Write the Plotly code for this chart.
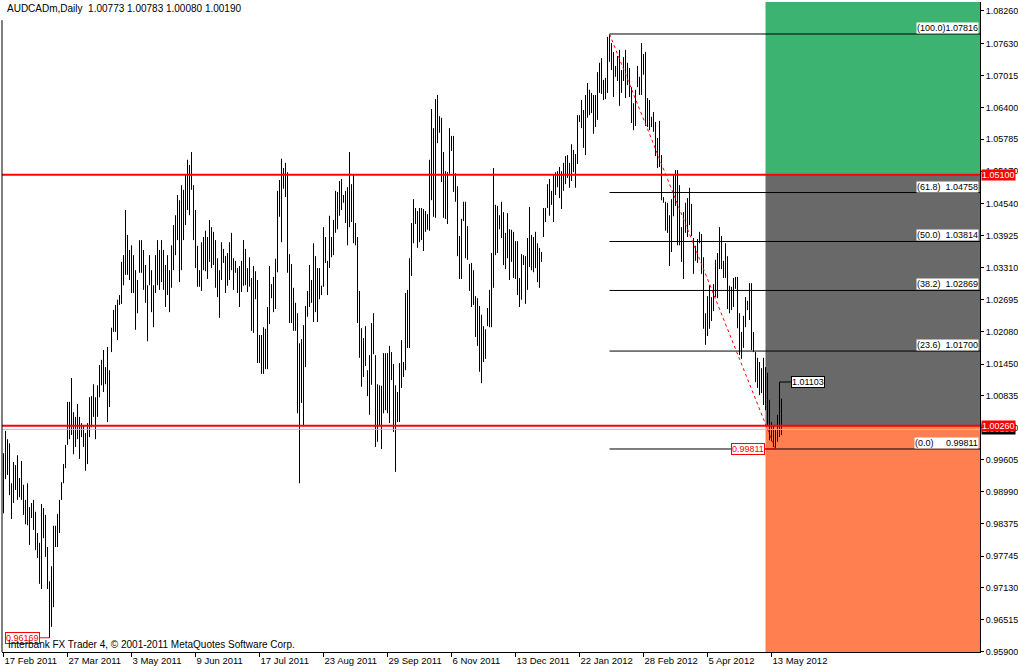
import plotly.graph_objects as go

# ---------------- data ----------------
symbol = "AUDCADm,Daily"
last_ohlc = [1.00773, 1.00783, 1.00080, 1.00190]  # O H L C of last bar

date_labels = ["17 Feb 2011", "27 Mar 2011", "3 May 2011", "9 Jun 2011", "17 Jul 2011",
               "23 Aug 2011", "29 Sep 2011", "6 Nov 2011", "13 Dec 2011", "22 Jan 2012",
               "28 Feb 2012", "5 Apr 2012", "13 May 2012"]
label_bars = [0, 32, 64, 96, 128, 160, 192, 224, 256, 288, 320, 352, 384]

highs = [
    0.9973, 1.0016, 1.0000, 0.9992, 0.9915, 0.9956, 0.9950, 0.9969, 0.9925, 0.9958,
    0.9912, 0.9883, 0.9915, 0.9869, 0.9877, 0.9883, 0.9860, 0.9819, 0.9800, 0.9875,
    0.9867, 0.9854, 0.9792, 0.9726, 0.9755, 0.9833, 0.9833, 0.9856, 0.9883, 0.9917,
    0.9952, 0.9989, 1.0072, 1.0072, 1.0118, 1.0052, 1.0043, 1.0068, 1.0043, 1.0031,
    1.0027, 1.0012, 1.0031, 1.0081, 1.0083, 1.0106, 1.0081, 1.0104, 1.0143, 1.0153,
    1.0172, 1.0139, 1.0178, 1.0133, 1.0215, 1.0249, 1.0259, 1.0269, 1.0278, 1.0342,
    1.0355, 1.0442, 1.0394, 1.0365, 1.0374, 1.0355, 1.0326, 1.0307, 1.0384, 1.0384,
    1.0365, 1.0336, 1.0297, 1.0355, 1.0326, 1.0297, 1.0355, 1.0384, 1.0365, 1.0384,
    1.0365, 1.0336, 1.0355, 1.0326, 1.0374, 1.0413, 1.0432, 1.0471, 1.0461, 1.0490,
    1.0481, 1.0510, 1.0539, 1.0529, 1.0554, 1.0490, 1.0442, 1.0373, 1.0326, 1.0380,
    1.0390, 1.0402, 1.0390, 1.0423, 1.0409, 1.0400, 1.0384, 1.0349, 1.0326, 1.0380,
    1.0367, 1.0353, 1.0359, 1.0380, 1.0398, 1.0349, 1.0344, 1.0330, 1.0334, 1.0344,
    1.0384, 1.0367, 1.0330, 1.0351, 1.0311, 1.0334, 1.0324, 1.0307, 1.0201, 1.0201,
    1.0216, 1.0213, 1.0255, 1.0334, 1.0299, 1.0313, 1.0348, 1.0479, 1.0500, 1.0541,
    1.0523, 1.0533, 1.0515, 1.0357, 1.0338, 1.0292, 1.0263, 1.0243, 1.0185, 1.0193,
    1.0220, 1.0257, 1.0286, 1.0336, 1.0307, 1.0378, 1.0353, 1.0330, 1.0330, 1.0296,
    1.0409, 1.0390, 1.0344, 1.0431, 1.0390, 1.0423, 1.0479, 1.0477, 1.0498, 1.0502,
    1.0471, 1.0479, 1.0486, 1.0554, 1.0492, 1.0510, 1.0417, 1.0390, 1.0286, 1.0214,
    1.0195, 1.0218, 1.0133, 1.0162, 1.0224, 1.0243, 1.0162, 1.0106, 1.0104, 1.0103,
    1.0166, 1.0166, 1.0166, 1.0180, 1.0168, 1.0145, 1.0104, 1.0091, 1.0147, 1.0191,
    1.0149, 1.0282, 1.0288, 1.0349, 1.0417, 1.0463, 1.0446, 1.0440, 1.0446, 1.0446,
    1.0444, 1.0440, 1.0434, 1.0539, 1.0637, 1.0600, 1.0656, 1.0664, 1.0623, 1.0620,
    1.0554, 1.0517, 1.0515, 1.0600, 1.0585, 1.0585, 1.0513, 1.0488, 1.0392, 1.0425,
    1.0458, 1.0458, 1.0411, 1.0338, 1.0340, 1.0326, 1.0276, 1.0272, 1.0257, 1.0240,
    1.0218, 1.0212, 1.0253, 1.0288, 1.0359, 1.0523, 1.0452, 1.0450, 1.0432, 1.0458,
    1.0438, 1.0398, 1.0436, 1.0405, 1.0404, 1.0400, 1.0382, 1.0382, 1.0311, 1.0357,
    1.0355, 1.0353, 1.0388, 1.0448, 1.0394, 1.0390, 1.0400, 1.0378, 1.0369, 1.0361,
    1.0446, 1.0446, 1.0492, 1.0502, 1.0479, 1.0510, 1.0515, 1.0517, 1.0525, 1.0517,
    1.0533, 1.0546, 1.0548, 1.0533, 1.0569, 1.0558, 1.0550, 1.0625, 1.0625, 1.0654,
    1.0635, 1.0664, 1.0687, 1.0674, 1.0668, 1.0664, 1.0664, 1.0708, 1.0726, 1.0735,
    1.0693, 1.0697, 1.0776, 1.07816, 1.0764, 1.0747, 1.0720, 1.0739, 1.0751, 1.0712,
    1.0737, 1.0751, 1.0726, 1.0716, 1.0679, 1.0648, 1.0674, 1.0720, 1.0699, 1.0764,
    1.0743, 1.0747, 1.0658, 1.0654, 1.0622, 1.0631, 1.0612, 1.0581, 1.0614, 1.0548,
    1.0467, 1.0458, 1.0456, 1.0432, 1.0463, 1.0510, 1.0519, 1.0519, 1.0490, 1.0409,
    1.0438, 1.0456, 1.0465, 1.0485, 1.0454, 1.0388, 1.0373, 1.0386, 1.0400, 1.0396,
    1.0351, 1.0243, 1.0276, 1.0297, 1.0274, 1.0299, 1.0346, 1.0359, 1.0409, 1.0392,
    1.0344, 1.0378, 1.0353, 1.0296, 1.0294, 1.0311, 1.0313, 1.0313, 1.0243, 1.0207,
    1.0238, 1.0274, 1.0267, 1.0301, 1.0301, 1.0207, 1.0168, 1.0157, 1.0149, 1.0137,
    1.0157, 1.0139, 1.0128, 1.0076, 1.0033, 1.0027, 1.0018, 1.0047, 1.01103, 1.00783,
]

lows = [
    0.9857, 0.9923, 0.9931, 0.9892, 0.9846, 0.9877, 0.9902, 0.9883, 0.9888, 0.9883,
    0.9854, 0.9836, 0.9834, 0.9796, 0.9848, 0.9825, 0.9786, 0.9771, 0.9721, 0.9711,
    0.9809, 0.9773, 0.9711, 0.96169, 0.9638, 0.9676, 0.9792, 0.9792, 0.9819, 0.9883,
    0.9915, 0.9944, 0.9989, 1.0000, 1.0008, 0.9971, 0.9985, 1.0000, 0.9962, 1.0004,
    0.9985, 0.9939, 0.9952, 1.0004, 1.0023, 1.0043, 1.0000, 1.0043, 1.0081, 1.0104,
    1.0091, 1.0106, 1.0033, 1.0062, 1.0168, 1.0207, 1.0207, 1.0191, 1.0259, 1.0261,
    1.0297, 1.0317, 1.0317, 1.0307, 1.0282, 1.0282, 1.0211, 1.0243, 1.0321, 1.0321,
    1.0288, 1.0263, 1.0189, 1.0297, 1.0245, 1.0216, 1.0282, 1.0297, 1.0288, 1.0303,
    1.0288, 1.0255, 1.0278, 1.0245, 1.0292, 1.0326, 1.0355, 1.0384, 1.0303, 1.0326,
    1.0384, 1.0413, 1.0442, 1.0432, 1.0481, 1.0384, 1.0330, 1.0294, 1.0294, 1.0286,
    1.0326, 1.0324, 1.0309, 1.0342, 1.0330, 1.0336, 1.0292, 1.0274, 1.0234, 1.0307,
    1.0340, 1.0282, 1.0296, 1.0307, 1.0326, 1.0288, 1.0321, 1.0282, 1.0255, 1.0284,
    1.0296, 1.0297, 1.0284, 1.0294, 1.0209, 1.0205, 1.0270, 1.0147, 1.0147, 1.0126,
    1.0126, 1.0135, 1.0135, 1.0222, 1.0272, 1.0245, 1.0251, 1.0322, 1.0429, 1.0380,
    1.0483, 1.0467, 1.0321, 1.0224, 1.0224, 1.0209, 1.0209, 1.0050, 0.9915, 1.0070,
    1.0027, 1.0139, 1.0236, 1.0255, 1.0263, 1.0226, 1.0245, 1.0226, 1.0270, 1.0278,
    1.0294, 1.0340, 1.0278, 1.0330, 1.0351, 1.0355, 1.0398, 1.0405, 1.0431, 1.0442,
    1.0456, 1.0417, 1.0374, 1.0409, 1.0419, 1.0378, 1.0374, 1.0224, 1.0157, 1.0101,
    1.0120, 1.0141, 1.0083, 1.0047, 1.0105, 1.0164, 0.9985, 0.9995, 1.0027, 0.9981,
    1.0050, 1.0056, 1.0050, 1.0031, 1.0114, 1.0014, 0.9937, 1.0033, 1.0033, 1.0099,
    1.0120, 1.0133, 1.0176, 1.0176, 1.0315, 1.0378, 1.0415, 1.0369, 1.0380, 1.0384,
    1.0363, 1.0400, 1.0404, 1.0402, 1.0461, 1.0429, 1.0427, 1.0571, 1.0591, 1.0496,
    1.0427, 1.0425, 1.0415, 1.0512, 1.0556, 1.0477, 1.0458, 1.0353, 1.0309, 1.0309,
    1.0421, 1.0349, 1.0346, 1.0286, 1.0255, 1.0259, 1.0197, 1.0180, 1.0130, 1.0108,
    1.0149, 1.0155, 1.0218, 1.0216, 1.0216, 1.0292, 1.0355, 1.0359, 1.0405, 1.0388,
    1.0336, 1.0328, 1.0349, 1.0307, 1.0342, 1.0311, 1.0309, 1.0278, 1.0255, 1.0269,
    1.0336, 1.0261, 1.0288, 1.0332, 1.0326, 1.0322, 1.0330, 1.0303, 1.0292, 1.0342,
    1.0390, 1.0419, 1.0446, 1.0431, 1.0452, 1.0419, 1.0471, 1.0486, 1.0465, 1.0444,
    1.0479, 1.0492, 1.0504, 1.0485, 1.0498, 1.0515, 1.0485, 1.0531, 1.0612, 1.0600,
    1.0562, 1.0548, 1.0620, 1.0625, 1.0629, 1.0589, 1.0602, 1.0616, 1.0668, 1.0666,
    1.0654, 1.0656, 1.0668, 1.0728, 1.0712, 1.0660, 1.0699, 1.0691, 1.0643, 1.0668,
    1.0691, 1.0658, 1.0683, 1.0660, 1.0610, 1.0596, 1.0604, 1.0679, 1.0664, 1.0664,
    1.0703, 1.0604, 1.0602, 1.0596, 1.0602, 1.0593, 1.0546, 1.0523, 1.0525, 1.0461,
    1.0456, 1.0402, 1.0398, 1.0334, 1.0361, 1.0430, 1.0450, 1.0374, 1.0374, 1.0342,
    1.0309, 1.0398, 1.0390, 1.0413, 1.0392, 1.0319, 1.0344, 1.0340, 1.0378, 1.0319,
    1.0213, 1.0182, 1.0199, 1.0213, 1.0228, 1.0247, 1.0274, 1.0272, 1.0328, 1.0328,
    1.0311, 1.0311, 1.0251, 1.0243, 1.0249, 1.0255, 1.0290, 1.0214, 1.0162, 1.0155,
    1.0176, 1.0216, 1.0249, 1.0230, 1.0172, 1.0168, 1.0110, 1.0099, 1.0085, 1.0089,
    1.0066, 1.0056, 1.0027, 0.9998, 0.9996, 0.9985, 0.99811, 0.9995, 1.0004, 1.00080,
]

ytick_vals = [1.08260, 1.07630, 1.07015, 1.06400, 1.05785, 1.05170, 1.04540, 1.03925,
              1.03310, 1.02695, 1.02080, 1.01450, 1.00835, 1.00220, 0.99605, 0.98990,
              0.98375, 0.97745, 0.97130, 0.96515, 0.95900]

h_levels = [1.05100, 1.00260]           # red horizontal lines
fib_pcts = [100.0, 61.8, 50.0, 38.2, 23.6, 0.0]
fib_high_bar, fib_low_bar = 303, 386    # anchor bars of the Fibonacci retracement
zone_start_bar = 381
zone_colors = ["#3CB371", "#696969", "#FF7F50"]   # green / gray / coral
label_high_bar = 388                    # bar with the 1.01103 price label

# ---------------- derived ----------------
n = len(highs)
y_range = [0.95895, 1.08433]
x_range = [-0.75, 488.25]

fib_hi = highs[fib_high_bar]
fib_lo = lows[fib_low_bar]
fib_vals = [fib_lo + (fib_hi - fib_lo) * p / 100.0 for p in fib_pcts]

xs, ys = [], []
for i in range(n):
    xs += [i, i, None]
    ys += [lows[i], highs[i], None]

FONT = "Liberation Sans, Arial, sans-serif"
fig = go.Figure()
fig.add_trace(go.Scatter(x=xs, y=ys, mode="lines", line=dict(color="black", width=1),
                         hoverinfo="skip", connectgaps=False))

# coloured zones
zone_edges = [y_range[1], h_levels[0], h_levels[1], y_range[0]]
for k, c in enumerate(zone_colors):
    fig.add_shape(type="rect", xref="x", yref="y", x0=zone_start_bar, x1=x_range[1],
                  y0=zone_edges[k + 1], y1=zone_edges[k], fillcolor=c,
                  line=dict(width=0), layer="below")

# bid line
fig.add_shape(type="line", xref="paper", yref="y", x0=0, x1=1,
              y0=last_ohlc[3], y1=last_ohlc[3], line=dict(color="#C0C0C0", width=1))
# red horizontal lines
for lv in h_levels:
    fig.add_shape(type="line", xref="paper", yref="y", x0=0, x1=1, y0=lv, y1=lv,
                  line=dict(color="#FF0000", width=2))
# fibonacci levels
for v in fib_vals:
    fig.add_shape(type="line", xref="x", yref="y", x0=fib_high_bar, x1=x_range[1],
                  y0=v, y1=v, line=dict(color="black", width=1))
# fib trend line
fig.add_shape(type="line", xref="x", yref="y", x0=fib_high_bar, y0=fib_hi,
              x1=fib_low_bar, y1=fib_lo, line=dict(color="#FF0000", width=1, dash="dot"))
# left frame line
fig.add_shape(type="line", xref="paper", yref="paper", x0=0, x1=0, y0=0, y1=0.972,
              line=dict(color="black", width=1))

NB = "\u00a0"
# fib labels
for p, v in zip(fib_pcts, fib_vals):
    pct = f"({p:.1f})"
    gap = "" if p >= 100 else (NB * 5 if p == 0 else NB * 2)
    fig.add_annotation(xref="paper", yref="y", x=1, y=v, xanchor="right", yanchor="bottom",
                       xshift=-1, text=pct + gap + f"{v:.5f}", showarrow=False,
                       bgcolor="white", borderpad=0,
                       font=dict(family=FONT, size=9, color="black"))

# price labels with connectors
lo_idx = lows.index(min(lows))
fig.add_annotation(xref="x", yref="y", x=lo_idx, y=lows[lo_idx], text=f"{lows[lo_idx]:.5f}",
                   showarrow=True, arrowhead=0, arrowwidth=1, arrowcolor="#FF0000",
                   ax=-27, ay=0, bgcolor="white", bordercolor="#FF0000", borderwidth=1,
                   borderpad=0, font=dict(family=FONT, size=9, color="#FF0000"))
fig.add_annotation(xref="x", yref="y", x=fib_low_bar, y=fib_lo, text=f"{fib_lo:.5f}",
                   showarrow=True, arrowhead=0, arrowwidth=1, arrowcolor="#FF0000",
                   ax=-28, ay=0, bgcolor="white", bordercolor="#FF0000", borderwidth=1,
                   borderpad=0, font=dict(family=FONT, size=9, color="#FF0000"))
fig.add_annotation(xref="x", yref="y", x=label_high_bar, y=highs[label_high_bar],
                   text=f"{highs[label_high_bar]:.5f}",
                   showarrow=True, arrowhead=0, arrowwidth=1, arrowcolor="black",
                   ax=28, ay=0, bgcolor="white", bordercolor="black", borderwidth=1,
                   borderpad=0, font=dict(family=FONT, size=9, color="black"))

# right-axis price tags
fig.add_annotation(xref="paper", yref="y", x=1, y=last_ohlc[3], xanchor="left", yanchor="middle",
                   xshift=1, text=f"{last_ohlc[3]:.5f}", showarrow=False, bgcolor="black",
                   borderpad=0, font=dict(family=FONT, size=9, color="white"))
for lv in h_levels:
    fig.add_annotation(xref="paper", yref="y", x=1, y=lv, xanchor="left", yanchor="middle",
                       xshift=1, text=f"{lv:.5f}", showarrow=False, bgcolor="#FF0000",
                       borderpad=0, font=dict(family=FONT, size=9, color="white"))

# title & copyright
fig.add_annotation(xref="paper", yref="paper", x=0, y=1, xanchor="left", yanchor="top",
                   xshift=3, yshift=1, showarrow=False,
                   text=symbol + NB * 2 + " ".join(f"{v:.5f}" for v in last_ohlc),
                   font=dict(family=FONT, size=10, color="black"))
fig.add_annotation(xref="paper", yref="paper", x=0, y=0, xanchor="left", yanchor="bottom",
                   xshift=4, showarrow=False,
                   text="Interbank FX Trader 4, © 2001-2011 MetaQuotes Software Corp.",
                   font=dict(family=FONT, size=10, color="black"))

fig.update_layout(width=1018, height=670, margin=dict(l=2, r=38, t=2, b=18, autoexpand=False),
                  paper_bgcolor="white", plot_bgcolor="white", showlegend=False,
                  hovermode=False, font=dict(family=FONT, size=10, color="black"))
fig.update_xaxes(range=x_range, tickvals=label_bars, ticktext=date_labels, ticks="outside",
                 ticklen=4, tickcolor="black", showline=True, linecolor="black", linewidth=1,
                 showgrid=False, zeroline=False, ticklabelposition="outside right",
                 tickfont=dict(family=FONT, size=9.5, color="black"), automargin=False)
fig.update_yaxes(side="right", range=y_range, tickvals=ytick_vals,
                 ticktext=[f"{v:.5f}" for v in ytick_vals], ticks="outside", ticklen=3,
                 tickcolor="black", showline=True, linecolor="black", linewidth=1,
                 showgrid=False, zeroline=False, automargin=False,
                 tickfont=dict(family=FONT, size=9, color="black"))

fig.write_html("out.html", config={"displayModeBar": False},
               post_script="document.body.style.margin='0px';document.body.style.overflow='hidden';")
